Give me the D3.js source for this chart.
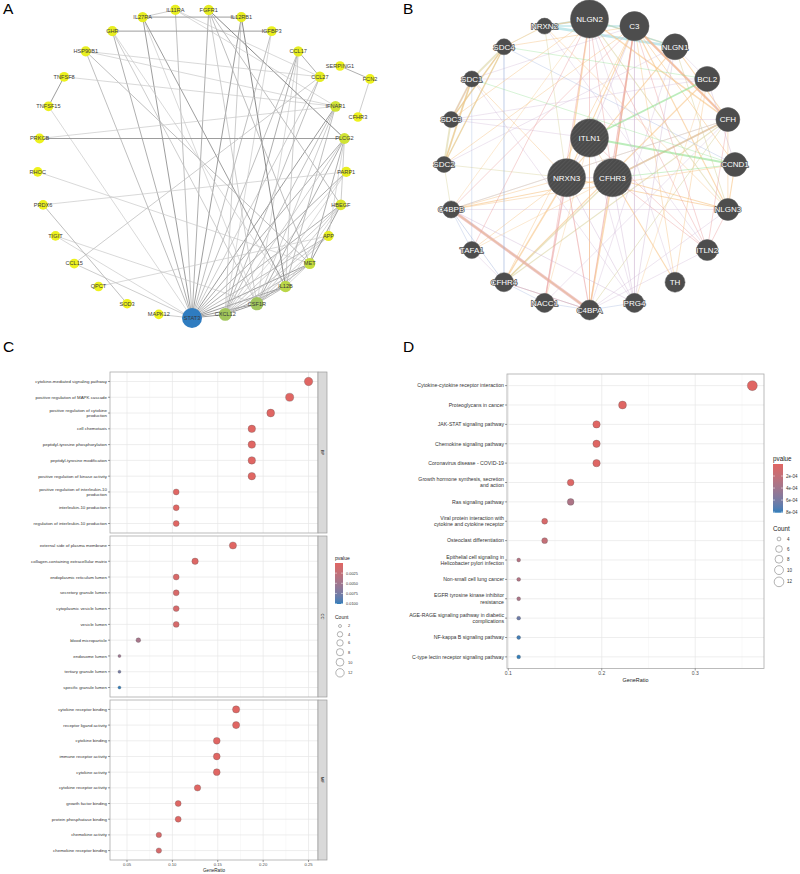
<!DOCTYPE html>
<html>
<head>
<meta charset="utf-8">
<script src="https://cdn.jsdelivr.net/npm/d3@7"></script>
<style>
body { margin: 0; background: #fff; }
text { font-family: "Liberation Sans", Arial, sans-serif; }
</style>
</head>
<body>
<svg id="fig" width="800" height="874"></svg>
<script>
// ---------------- data: panel A (STRING network) ----------------
var ringGenesA = ['STAT3','MAPK12','SOD3','QPCT','CCL15','TIGIT','PRDX6','RHOC','PRKCB','TNFSF15','TNFSF8',
                  'HSP90B1','GHR','IL27RA','IL11RA','FGFR1','IL12RB1','IGFBP3','CCL17','CCL27','IFNAR1',
                  'PLCG2','PARP1','HBEGF','APP','MET','IL12B','CSF1R','CXCL12'];
var sideGenesA = ['SERPING1','FCN2','CFHR3'];
var sideLayoutA = [[0.958,-0.631],[1.152,-0.547],[1.074,-0.301]];   // layout units (ring radius = 1)
var edgesA = [
  ['STAT3','MAPK12',.5],['STAT3','CCL15',.5],['STAT3','TIGIT',.4],['STAT3','TNFSF15',.4],['STAT3','HSP90B1',.6],
  ['STAT3','GHR',.7],['STAT3','IL27RA',.8],['STAT3','IL11RA',.6],['STAT3','FGFR1',.7],['STAT3','IL12RB1',.8],
  ['STAT3','IGFBP3',.6],['STAT3','CCL17',.6],['STAT3','CCL27',.5],['STAT3','IFNAR1',.8],['STAT3','PLCG2',.7],
  ['STAT3','PARP1',.7],['STAT3','HBEGF',.7],['STAT3','APP',.6],['STAT3','MET',.8],['STAT3','IL12B',.8],
  ['STAT3','CSF1R',.8],['STAT3','CXCL12',.8],
  ['CXCL12','CSF1R',.8],['CXCL12','IL12B',.7],['CXCL12','MET',.6],['CXCL12','APP',.5],['CXCL12','HBEGF',.5],
  ['CXCL12','PARP1',.4],['CXCL12','PLCG2',.5],['CXCL12','IFNAR1',.6],['CXCL12','CCL27',.6],['CXCL12','CCL17',.7],
  ['CXCL12','IGFBP3',.4],['CXCL12','IL12RB1',.5],
  ['CSF1R','IL12B',.6],['CSF1R','MET',.7],['CSF1R','APP',.5],['CSF1R','HBEGF',.5],['CSF1R','PLCG2',.7],
  ['CSF1R','IFNAR1',.5],['CSF1R','GHR',.5],['CSF1R','IL27RA',.4],['CSF1R','TIGIT',.4],['CSF1R','FGFR1',.5],
  ['CSF1R','PARP1',.4],['CSF1R','CCL17',.4],
  ['IL12B','IL12RB1',.9],['IL12B','IL27RA',.8],['IL12B','MET',.4],['IL12B','IFNAR1',.6],['IL12B','CCL17',.5],
  ['IL12B','HBEGF',.4],['IL12B','GHR',.4],
  ['MET','HBEGF',.8],['MET','PLCG2',.7],['MET','HSP90B1',.6],['MET','RHOC',.4],['MET','FGFR1',.6],
  ['APP','QPCT',.4],['APP','PLCG2',.4],['HBEGF','PLCG2',.5],['HBEGF','FGFR1',.6],
  ['PLCG2','PRKCB',.8],['PLCG2','FGFR1',.9],['PARP1','PRDX6',.4],
  ['IFNAR1','PRKCB',.4],['IFNAR1','TNFSF8',.4],['IFNAR1','HSP90B1',.4],['IFNAR1','IL11RA',.4],
  ['CCL27','CCL17',.7],['CCL27','CCL15',.5],['CCL27','HSP90B1',.4],['CCL27','IL11RA',.4],
  ['IL27RA','IL12RB1',.8],['IL27RA','IL11RA',.5],['GHR','IGFBP3',.8],['TNFSF8','TNFSF15',.8],
  ['PRDX6','SOD3',.6],['SERPING1','FCN2',.7],['FCN2','CFHR3',.5]
];

// ---------------- data: panel B (GeneMANIA network) ----------------
var queryGenesB = ['ITLN1','CFHR3','NRXN3'];
var ringGenesB = ['NLGN2','C3','NLGN1','BCL2','CFH','CCND1','NLGN3','ITLN2','TH','PRG4','C4BPA','NACC1',
                  'CFHR4','TAFA1','C4BPB','SDC2','SDC3','SDC1','SDC4','NRXN2'];
var ringScoreB = [1, .6, .45, .41, .36, .36, .27, .23, .18, .14, .18, .14, .14, .05, .05, 0, 0, 0, 0, 0];
var linkTypes = ['phys','coexp','pred','coloc','genetic','path','domain'];
var linkColors = ['#eaa2a2','#d0b7d5','#f6c384','#a0b3dc','#90e190','#9bd8de','#dad4a2'];
var edgesB = [
  ['SDC1','SDC2','domain',2.5],['SDC1','SDC3','domain',2.5],['SDC1','SDC4','domain',2.5],['SDC2','SDC3','domain',2.5],
  ['SDC2','SDC4','domain',2],['SDC3','SDC4','domain',2],['SDC1','SDC2','pred',1.5],['SDC3','SDC4','pred',1.5],
  ['SDC2','SDC4','pred',1.2],['SDC1','SDC3','phys',1],['SDC4','NRXN2','pred',1],['SDC4','NRXN2','domain',.8],
  ['NRXN2','NLGN1','path',3.5],['NRXN2','NLGN2','path',2.5],['NRXN2','NLGN2','pred',2],['NRXN2','C3','path',2],
  ['NRXN2','NLGN3','pred',1],['NRXN2','NRXN3','domain',1],
  ['NLGN2','NLGN1','domain',2],['NLGN2','NLGN1','path',1.5],['NLGN2','NLGN3','domain',1.5],['NLGN1','NLGN3','domain',1.2],
  ['NLGN2','NRXN3','pred',2],['NLGN1','NRXN3','pred',1.5],['NLGN3','NRXN3','pred',1.5],['NLGN2','CFHR3','phys',1],
  ['NLGN2','C4BPA','phys',1],
  ['C3','CFH','phys',3],['C3','CFH','pred',2],['NLGN2','CFH','pred',2],['C3','CFHR3','pred',2],['C3','CFHR3','phys',1.5],
  ['C3','C4BPA','phys',1.5],['C3','C4BPB','phys',1],['C3','CFHR4','pred',1],['C3','ITLN1','coexp',1],['C3','PRG4','coexp',.8],
  ['C3','CCND1','pred',1.2],['C3','NLGN3','pred',1.5],['C3','TH','pred',1],
  ['CFH','CFHR3','phys',2],['CFH','CFHR3','domain',2],['CFH','CFHR4','domain',1.5],['CFH','C4BPA','domain',1.2],
  ['CFH','C4BPB','domain',1],['CFH','NLGN3','pred',1],['CFH','ITLN2','phys',1],['NLGN1','CFH','pred',1.5],
  ['BCL2','ITLN1','genetic',2.5],['BCL2','CCND1','coexp',1],['BCL2','CFHR4','pred',1.5],['BCL2','NLGN1','coexp',.8],
  ['BCL2','TH','pred',1],['BCL2','SDC1','coexp',.8],
  ['CCND1','ITLN1','genetic',2.5],['CCND1','CFHR3','genetic',1],['CCND1','C4BPB','pred',1],['CCND1','NLGN3','pred',1.5],
  ['CCND1','SDC4','coloc',.8],
  ['ITLN1','ITLN2','phys',1],['ITLN1','NRXN3','coexp',1],['ITLN1','CFHR3','pred',1],['ITLN1','SDC3','coexp',.8],
  ['ITLN1','C4BPA','pred',1.2],
  ['NRXN3','NACC1','phys',2],['NRXN3','CFHR4','pred',2],['NRXN3','C4BPA','phys',1.5],['NRXN3','C4BPB','pred',1],
  ['NRXN3','CFHR3','coexp',1],['NRXN3','SDC1','pred',1],['NRXN3','SDC2','domain',1],['NRXN3','TAFA1','pred',1],
  ['NRXN3','PRG4','coexp',1],['NRXN3','C3','pred',1.5],
  ['CFHR3','C4BPA','pred',2],['CFHR3','C4BPB','pred',1.5],['CFHR3','CFHR4','domain',2],['CFHR3','PRG4','coexp',1],
  ['CFHR3','TH','pred',1.5],['CFHR3','ITLN2','phys',1],['CFHR3','NLGN3','pred',1.5],
  ['C4BPB','C4BPA','phys',4],['C4BPB','C4BPA','coexp',2],['C4BPB','C4BPA','pred',1.5],['C4BPB','CFHR4','coloc',1],
  ['C4BPB','TAFA1','coloc',.8],['C4BPB','PRG4','coexp',1],['C4BPB','NLGN3','coexp',.8],['C4BPB','SDC2','domain',1],
  ['C4BPB','CFH','coexp',.8],['C4BPB','NLGN2','pred',.8],
  ['C4BPA','CFHR4','coloc',1],['C4BPA','NACC1','coloc',.8],['C4BPA','PRG4','coloc',.8],['C4BPA','ITLN2','coexp',.8],
  ['C4BPA','NLGN1','coexp',.8],['CFHR4','SDC4','coloc',.8],['CFHR4','TAFA1','coexp',.8],['CFHR4','NACC1','coloc',.8],
  ['CFHR4','C4BPA','phys',1],
  ['PRG4','NLGN1','coexp',1],['PRG4','C3','coexp',1],['PRG4','ITLN1','coexp',.8],['PRG4','SDC1','coexp',.8],
  ['PRG4','BCL2','pred',.8],['TH','NLGN2','coexp',.8],['ITLN2','NLGN2','phys',1],['ITLN2','C3','phys',1],
  ['ITLN2','NRXN2','coexp',.8],['TAFA1','SDC1','coloc',.8],['TAFA1','NLGN2','phys',1],['TAFA1','CFHR3','pred',.8],
  ['SDC2','NLGN1','coexp',.8],['SDC3','CFH','coexp',.8],['SDC3','BCL2','coexp',.8],['SDC1','C3','coexp',.8],
  ['SDC1','CCND1','genetic',.8],['SDC4','CFHR4','coloc',.8],['SDC4','BCL2','genetic',.8],['SDC3','NLGN2','pred',1],
  ['SDC2','C3','pred',1],['SDC4','C3','pred',1],['NACC1','NLGN2','phys',1],['NACC1','CFH','coexp',.8],
  ['NACC1','ITLN1','pred',.8],['NLGN3','ITLN2','phys',1],['NLGN3','C4BPA','coexp',.8]
];

// ---------------- data: panel C (GO enrichment) ----------------
var bpTerms = ['cytokine-mediated signaling pathway','positive regulation of MAPK cascade',
  'positive regulation of cytokine production','cell chemotaxis','peptidyl-tyrosine phosphorylation',
  'peptidyl-tyrosine modification','positive regulation of kinase activity',
  'positive regulation of interleukin-10 production','interleukin-10 production','regulation of interleukin-10 production'];
var bpRatio = [0.2500,0.2292,0.2083,0.1875,0.1875,0.1875,0.1875,0.1042,0.1042,0.1042];
var bpCount = [12,11,10,9,9,9,9,5,5,5];
var bpP = [2.1e-10,5.3e-9,4.1e-8,3.3e-7,1.2e-7,1.6e-7,2.8e-7,1.1e-6,1.4e-6,1.4e-6];

var ccTerms = ['external side of plasma membrane','collagen-containing extracellular matrix','endoplasmic reticulum lumen',
  'secretory granule lumen','cytoplasmic vesicle lumen','vesicle lumen','blood microparticle','endosome lumen',
  'tertiary granule lumen','specific granule lumen'];
var ccRatio = [0.1667,0.1250,0.1042,0.1042,0.1042,0.1042,0.0625,0.0417,0.0417,0.0417];
var ccCount = [8,6,5,5,5,5,3,2,2,2];
var ccP = [1.2e-5,2.5e-4,6.3e-4,7.1e-4,8.7e-4,8.9e-4,4.6e-3,5.2e-3,7.7e-3,1.01e-2];

var mfTerms = ['cytokine receptor binding','receptor ligand activity','cytokine binding','immune receptor activity',
  'cytokine activity','cytokine receptor activity','growth factor binding','protein phosphatase binding',
  'chemokine activity','chemokine receptor binding'];
var mfRatio = [0.1702,0.1702,0.1489,0.1489,0.1489,0.1277,0.1064,0.1064,0.0851,0.0851];
var mfCount = [8,8,7,7,7,6,5,5,4,4];
var mfP = [1.3e-8,2.1e-6,4.4e-7,4.4e-7,1.5e-6,8.4e-6,1.2e-4,1.4e-4,7.5e-4,9.1e-4];

var ontologies = ['BP','CC','MF'];
var goTicks = [0.05,0.10,0.15,0.20,0.25];
var goMinor = [0.075,0.125,0.175,0.225];
var goPBreaks = [0.0025,0.0050,0.0075,0.0100];
var goCountBreaks = [2,4,6,8,10,12];

// ---------------- data: panel D (KEGG enrichment) ----------------
var keggTerms = ['Cytokine-cytokine receptor interaction','Proteoglycans in cancer','JAK-STAT signaling pathway',
  'Chemokine signaling pathway','Coronavirus disease - COVID-19','Growth hormone synthesis, secretion and action',
  'Ras signaling pathway','Viral protein interaction with cytokine and cytokine receptor','Osteoclast differentiation',
  'Epithelial cell signaling in Helicobacter pylori infection','Non-small cell lung cancer',
  'EGFR tyrosine kinase inhibitor resistance','AGE-RAGE signaling pathway in diabetic complications',
  'NF-kappa B signaling pathway','C-type lectin receptor signaling pathway'];
var keggRatio = [0.3611,0.2222,0.1944,0.1944,0.1944,0.1667,0.1667,0.1389,0.1389,0.1111,0.1111,0.1111,0.1111,0.1111,0.1111];
var keggCount = [13,8,7,7,7,6,6,5,5,4,4,4,4,4,4];
var keggP = [1.9e-12,4.4e-6,3.0e-6,4.2e-6,5.1e-6,2.4e-5,3.3e-4,6.1e-5,1.9e-4,2.9e-4,3.0e-4,3.4e-4,6.5e-4,7.8e-4,8.1e-4];
var keggTicks = [0.1,0.2,0.3];
var keggMinor = [0.15,0.25,0.35];
var keggPBreaks = [2e-4,4e-4,6e-4,8e-4];
var keggCountBreaks = [4,6,8,10,12];

// =================================================================
var svg = d3.select('#fig');
var defs = svg.append('defs');

// panel letters
[['A',3,14],['B',403,14],['C',3,352],['D',403,352]].forEach(function(l){
  svg.append('text').attr('x', l[1]).attr('y', l[2]).text(l[0])
    .style('font-size', '15.5px').attr('fill', '#000');
});

// ---------------- panel A ----------------
var gA = svg.append('g').attr('class', 'panelA');
var cxA = 192, cyA = 163.5, rA = 154.5;
var nodesA = ringGenesA.map(function(g, i){
  var t = i * 2 * Math.PI / ringGenesA.length;
  return {id: g, x: cxA - rA * Math.sin(t), y: cyA + rA * Math.cos(t), deg: 0};
});
sideGenesA.forEach(function(g, i){
  nodesA.push({id: g, x: cxA + rA * sideLayoutA[i][0], y: cyA + rA * sideLayoutA[i][1], deg: 0});
});
var byIdA = {};
nodesA.forEach(function(n){ byIdA[n.id] = n; });
edgesA.forEach(function(e){ byIdA[e[0]].deg++; byIdA[e[1]].deg++; });

var edgeColA = d3.scaleLinear().domain([0.3, 0.9]).range(['#d2d2d2', '#8a8a8a']).clamp(true);
var edgeWA = d3.scaleLinear().domain([0.3, 0.9]).range([0.6, 1.0]).clamp(true);
var nodeColA = d3.scaleLinear().domain([1, 6, 9, 12, 16, 20])
  .range(['#eef21c', '#e4ec22', '#c6de3e', '#a3c759', '#9cc35e', '#2f7cc0']).clamp(true);
var nodeRA = d3.scaleLinear().domain([1, 8, 14, 22]).range([4.8, 5.4, 6.6, 10]).clamp(true);

gA.selectAll('line').data(edgesA).enter().append('line')
  .attr('x1', function(d){ return byIdA[d[0]].x; })
  .attr('y1', function(d){ return byIdA[d[0]].y; })
  .attr('x2', function(d){ return byIdA[d[1]].x; })
  .attr('y2', function(d){ return byIdA[d[1]].y; })
  .attr('stroke', function(d){ return edgeColA(d[2]); })
  .attr('stroke-width', function(d){ return edgeWA(d[2]); });

gA.selectAll('circle').data(nodesA).enter().append('circle')
  .attr('cx', function(d){ return d.x; })
  .attr('cy', function(d){ return d.y; })
  .attr('r', function(d){ return nodeRA(d.deg); })
  .attr('fill', function(d){ return nodeColA(d.deg); });

gA.selectAll('text.lab').data(nodesA).enter().append('text')
  .attr('class', 'lab')
  .attr('x', function(d){ return d.x; })
  .attr('y', function(d){ return d.y; })
  .attr('dy', '0.35em')
  .attr('text-anchor', 'middle')
  .style('font-size', '5.6px')
  .attr('fill', '#3a3a3a')
  .text(function(d){ return d.id; });

// ---------------- panel B ----------------
var gB = svg.append('g').attr('class', 'panelB');
var cxB = 589.5, cyB = 164.5, rB = 145.5, rInner = 26.5;
var nodeRB = d3.scaleLinear().domain([0, 1]).range([8, 19]);
var nodesB = ringGenesB.map(function(g, i){
  var t = i * 2 * Math.PI / ringGenesB.length;
  return {id: g, x: cxB + rB * Math.sin(t), y: cyB - rB * Math.cos(t), r: nodeRB(ringScoreB[i]), query: false};
});
queryGenesB.forEach(function(g, i){
  var t = i * 2 * Math.PI / queryGenesB.length;
  nodesB.push({id: g, x: cxB + rInner * Math.sin(t), y: cyB - rInner * Math.cos(t), r: nodeRB(1), query: true});
});
var byIdB = {};
nodesB.forEach(function(n){ byIdB[n.id] = n; });
var linkColor = d3.scaleOrdinal().domain(linkTypes).range(linkColors);

var hatch = defs.append('pattern').attr('id', 'hatch').attr('patternUnits', 'userSpaceOnUse')
  .attr('width', 3).attr('height', 3).attr('patternTransform', 'rotate(45)');
hatch.append('rect').attr('width', 3).attr('height', 3).attr('fill', '#4b4b4b');
hatch.append('line').attr('x1', 0).attr('y1', 0).attr('x2', 0).attr('y2', 3)
  .attr('stroke', '#5e5e5e').attr('stroke-width', 1.2);

gB.selectAll('line').data(edgesB).enter().append('line')
  .attr('x1', function(d){ return byIdB[d[0]].x; })
  .attr('y1', function(d){ return byIdB[d[0]].y; })
  .attr('x2', function(d){ return byIdB[d[1]].x; })
  .attr('y2', function(d){ return byIdB[d[1]].y; })
  .attr('stroke', function(d){ return linkColor(d[2]); })
  .attr('stroke-width', function(d){ return d[3] * 0.75; })
  .attr('stroke-opacity', 0.6);

gB.selectAll('circle').data(nodesB).enter().append('circle')
  .attr('cx', function(d){ return d.x; })
  .attr('cy', function(d){ return d.y; })
  .attr('r', function(d){ return d.r; })
  .attr('fill', function(d){ return d.query ? 'url(#hatch)' : '#4d4d4d'; })
  .attr('stroke', '#5a5a5a').attr('stroke-width', 0.5);

gB.selectAll('text.lab').data(nodesB).enter().append('text')
  .attr('class', 'lab')
  .attr('x', function(d){ return d.x; })
  .attr('y', function(d){ return d.y; })
  .attr('dy', '0.36em')
  .attr('text-anchor', 'middle')
  .style('font-size', '8px')
  .attr('fill', '#fff')
  .attr('stroke', '#4d4d4d').attr('stroke-width', 1.3)
  .attr('paint-order', 'stroke')
  .text(function(d){ return d.id; });

// ---------------- dot plots (C, D) ----------------
function wrapLabel(st, width) {
  var words = [];
  while (st.length > width && st.indexOf(' ') >= 0) {
    var ys = [];
    for (var k = 0; k < st.length; k++) if (st[k] === ' ') ys.push(k + 1);
    ys.push(st.length);
    var idx = ys.filter(function(y){ return y < width; });
    var cut = idx.length ? idx[idx.length - 1] : ys[0];
    words.push(st.substring(0, cut - 1));
    st = st.substring(cut);
  }
  words.push(st);
  return words;
}

function dotplot(cfg) {
  var g = svg.append('g');
  var allR = [], allP = [], allC = [];
  cfg.facets.forEach(function(f){ allR = allR.concat(f.ratio); allP = allP.concat(f.p); allC = allC.concat(f.count); });
  var ext = d3.extent(allR), pad = (ext[1] - ext[0]) * 0.05;
  var x = d3.scaleLinear().domain([ext[0] - pad, ext[1] + pad]).range([cfg.left, cfg.right]);
  var color = d3.scaleLinear().domain(d3.extent(allP)).range(['#e06663', '#327eba']).interpolate(d3.interpolateLab);
  var cExt = d3.extent(allC);
  var rad = function(c){ return cfg.rMin + (cfg.rMax - cfg.rMin) * Math.sqrt((c - cExt[0]) / (cExt[1] - cExt[0])); };

  cfg.facets.forEach(function(f){
    var y = d3.scalePoint().domain(f.terms).range([f.top, f.bottom]).padding(0.6);
    var rows = f.terms.map(function(t, i){ return {term: t, ratio: f.ratio[i], count: f.count[i], p: f.p[i]}; });
    var top = f.top, bot = f.bottom;
    g.append('rect').attr('x', cfg.left).attr('y', top).attr('width', cfg.right - cfg.left).attr('height', bot - top)
      .attr('fill', '#fff');
    g.selectAll(null).data(cfg.minor).enter().append('line')
      .attr('x1', x).attr('x2', x).attr('y1', top).attr('y2', bot)
      .attr('stroke', '#f2f2f2').attr('stroke-width', 0.5);
    g.selectAll(null).data(cfg.ticks).enter().append('line')
      .attr('x1', x).attr('x2', x).attr('y1', top).attr('y2', bot)
      .attr('stroke', '#e6e6e6').attr('stroke-width', 0.7);
    g.selectAll(null).data(f.terms).enter().append('line')
      .attr('x1', cfg.left).attr('x2', cfg.right)
      .attr('y1', function(d){ return y(d); }).attr('y2', function(d){ return y(d); })
      .attr('stroke', '#e6e6e6').attr('stroke-width', 0.7);
    g.selectAll(null).data(rows).enter().append('circle')
      .attr('cx', function(d){ return x(d.ratio); })
      .attr('cy', function(d){ return y(d.term); })
      .attr('r', function(d){ return rad(d.count); })
      .attr('fill', function(d){ return color(d.p); })
      .attr('stroke', '#5a5a5a').attr('stroke-width', 0.3);
    g.append('rect').attr('x', cfg.left).attr('y', top).attr('width', cfg.right - cfg.left).attr('height', bot - top)
      .attr('fill', 'none').attr('stroke', '#ababab').attr('stroke-width', 0.8);
    // y axis
    g.selectAll(null).data(f.terms).enter().append('line')
      .attr('x1', cfg.left - 2).attr('x2', cfg.left)
      .attr('y1', function(d){ return y(d); }).attr('y2', function(d){ return y(d); })
      .attr('stroke', '#333').attr('stroke-width', 0.5);
    f.terms.forEach(function(t){
      var lines = wrapLabel(t, 40);
      var tx = g.append('text').attr('x', cfg.left - 3).attr('text-anchor', 'end')
        .style('font-size', cfg.labelSize + 'px').attr('fill', '#333');
      lines.forEach(function(s, i){
        tx.append('tspan').attr('x', cfg.left - 3)
          .attr('y', y(t) + (i - (lines.length - 1) / 2) * cfg.lineH)
          .attr('dy', '0.35em').text(s);
      });
    });
    if (f.strip) {
      g.append('rect').attr('x', cfg.right).attr('y', top).attr('width', cfg.stripW).attr('height', bot - top)
        .attr('fill', '#d9d9d9').attr('stroke', '#9a9a9a').attr('stroke-width', 0.7);
      g.append('text').attr('transform', 'translate(' + (cfg.right + cfg.stripW / 2) + ',' + ((top + bot) / 2) + ') rotate(90)')
        .attr('text-anchor', 'middle').attr('dy', '0.35em')
        .style('font-size', cfg.tickSize + 'px').attr('fill', '#1a1a1a').text(f.strip);
    }
  });

  // x axis
  var last = cfg.facets[cfg.facets.length - 1].bottom;
  g.selectAll(null).data(cfg.ticks).enter().append('line')
    .attr('x1', x).attr('x2', x).attr('y1', last).attr('y2', last + 2)
    .attr('stroke', '#333').attr('stroke-width', 0.5);
  g.selectAll(null).data(cfg.ticks).enter().append('text')
    .attr('x', x).attr('y', last + 2.5 + cfg.tickSize * 0.8).attr('text-anchor', 'middle')
    .style('font-size', cfg.tickSize + 'px').attr('fill', '#4d4d4d')
    .text(cfg.tickFormat);
  g.append('text').attr('x', (cfg.left + cfg.right) / 2).attr('y', cfg.xTitleY).attr('text-anchor', 'middle')
    .style('font-size', cfg.titleSize + 'px').attr('fill', '#222').text('GeneRatio');

  // legend: pvalue colour bar
  var L = cfg.legend;
  g.append('text').attr('x', L.x).attr('y', L.pTitleY).style('font-size', L.titleSize + 'px').attr('fill', '#222').text('pvalue');
  var gradId = 'grad' + cfg.id;
  var grad = defs.append('linearGradient').attr('id', gradId).attr('x1', 0).attr('y1', 0).attr('x2', 0).attr('y2', 1);
  d3.range(0, 1.0001, 0.1).forEach(function(t){
    grad.append('stop').attr('offset', t).attr('stop-color', color(color.domain()[0] + t * (color.domain()[1] - color.domain()[0])));
  });
  var barY = d3.scaleLinear().domain(color.domain()).range([L.barTop, L.barTop + L.barH]);
  g.append('rect').attr('x', L.x).attr('y', L.barTop).attr('width', L.barW).attr('height', L.barH).attr('fill', 'url(#' + gradId + ')');
  L.pBreaks.forEach(function(b){
    var yy = barY(b);
    g.append('line').attr('x1', L.x).attr('x2', L.x + 2).attr('y1', yy).attr('y2', yy).attr('stroke', '#fff').attr('stroke-width', 0.5);
    g.append('line').attr('x1', L.x + L.barW - 2).attr('x2', L.x + L.barW).attr('y1', yy).attr('y2', yy).attr('stroke', '#fff').attr('stroke-width', 0.5);
    g.append('text').attr('x', L.x + L.barW + 3).attr('y', yy).attr('dy', '0.35em')
      .style('font-size', L.labSize + 'px').attr('fill', '#333').text(L.pFormat(b));
  });
  // legend: count
  g.append('text').attr('x', L.x).attr('y', L.cTitleY).style('font-size', L.titleSize + 'px').attr('fill', '#222').text('Count');
  var yy = L.cStart, prevH = null;
  L.cBreaks.forEach(function(c){
    var r = rad(c), h = Math.max(L.keyMin, 2 * r + 2.5);
    if (prevH !== null) yy += (prevH + h) / 2;
    prevH = h;
    g.append('circle').attr('cx', L.x + L.keyDx).attr('cy', yy).attr('r', r)
      .attr('fill', 'none').attr('stroke', '#666').attr('stroke-width', 0.5);
    g.append('text').attr('x', L.x + L.keyDx + 8).attr('y', yy).attr('dy', '0.35em')
      .style('font-size', L.labSize + 'px').attr('fill', '#333').text(c);
  });
}

dotplot({
  id: 'C', left: 110, right: 318, stripW: 9,
  facets: [
    {terms: bpTerms, ratio: bpRatio, count: bpCount, p: bpP, top: 372, bottom: 533, strip: ontologies[0]},
    {terms: ccTerms, ratio: ccRatio, count: ccCount, p: ccP, top: 536, bottom: 697, strip: ontologies[1]},
    {terms: mfTerms, ratio: mfRatio, count: mfCount, p: mfP, top: 700, bottom: 860, strip: ontologies[2]}
  ],
  ticks: goTicks, minor: goMinor, tickFormat: d3.format('.2f'),
  rMin: 1.5, rMax: 4.2, labelSize: 4.4, lineH: 5.3, tickSize: 4.2, titleSize: 4.6, xTitleY: 872,
  legend: {x: 335, pTitleY: 560, titleSize: 5, barTop: 563, barW: 8, barH: 41, labSize: 3.9,
           pBreaks: goPBreaks, pFormat: d3.format('.4f'),
           cTitleY: 619, cStart: 626, keyMin: 8.3, keyDx: 5, cBreaks: goCountBreaks}
});

dotplot({
  id: 'D', left: 507, right: 764, stripW: 0,
  facets: [
    {terms: keggTerms, ratio: keggRatio, count: keggCount, p: keggP, top: 374, bottom: 668.5, strip: null}
  ],
  ticks: keggTicks, minor: keggMinor, tickFormat: d3.format('.1f'),
  rMin: 1.9, rMax: 5.0, labelSize: 5.2, lineH: 6.3, tickSize: 5, titleSize: 5.4, xTitleY: 682,
  legend: {x: 773, pTitleY: 461, titleSize: 6.3, barTop: 464, barW: 10, barH: 48.7, labSize: 4.5,
           pBreaks: keggPBreaks, pFormat: function(v){ return d3.format('.0e')(v).replace(/e-(\d)$/, 'e-0$1'); },
           cTitleY: 531, cStart: 539, keyMin: 10, keyDx: 6, cBreaks: keggCountBreaks}
});
</script>
</body>
</html>
